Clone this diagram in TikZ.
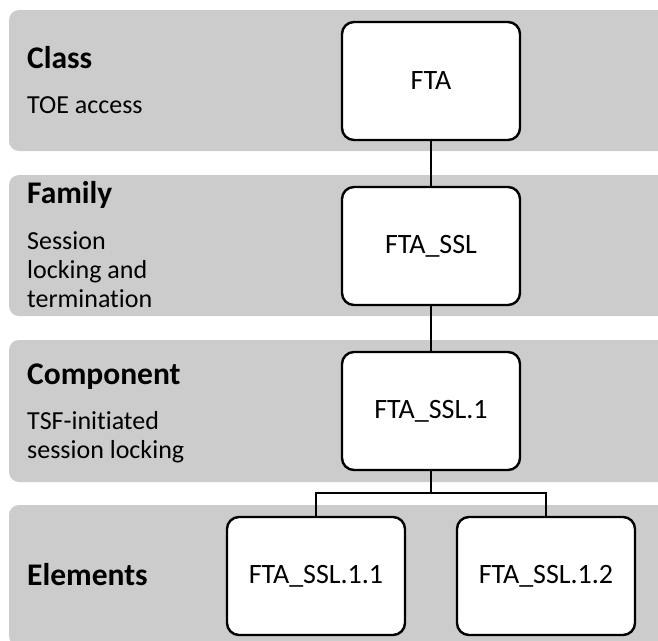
\documentclass[tikz,border=0pt]{standalone}
\usepackage{fontspec}
\setmainfont{Carlito}[Ligatures=NoCommon]
\definecolor{bandgray}{HTML}{CCCCCC}
\begin{document}
\begin{tikzpicture}[x=1pt, y=-1pt,
  band/.style={fill=bandgray, rounded corners=10pt},
  item/.style={draw=black, fill=white, line width=2.4pt, rounded corners=12pt,
    minimum width=178pt, minimum height=118pt, inner sep=0pt,
    font=\fontsize{28}{32}\selectfont},
  head/.style={anchor=base west, inner sep=0pt, font=\fontsize{31.5}{36}\bfseries},
  desc/.style={anchor=base west, inner sep=0pt, align=left,
    font=\fontsize{26}{29}\selectfont},
  link/.style={line width=2.4pt}]
\useasboundingbox (0,0) rectangle (658,640);
\clip (0,0) rectangle (658,640);
% level bands, running off the right edge
\fill[band] (9,10) rectangle (700,151);
\fill[band] (9,175) rectangle (700,316);
\fill[band] (9,340) rectangle (700,482);
\fill[band] (9,505) rectangle (700,646);
% level names and descriptions (base anchor sits on the last line)
\node[head] (hclass) at (27,68) {Class};
\node[desc] (dclass) at (27,113) {TOE access};
\node[head] (hfam) at (27,203) {Family};
\node[desc] (dfam) at (27,307) {Session\\locking and\\termination};
\node[head] (hcomp) at (27,384) {Component};
\node[desc] (dcomp) at (27,458) {TSF-initiated\\session locking};
\node[head] (helem) at (27,585) {Elements};
% hierarchy
\node[item] (fta) at (431,81) {FTA};
\node[item] (ssl) at (431,246) {FTA\_SSL};
\node[item] (ssl1) at (431,411) {FTA\_SSL.1};
\node[item] (e1) at (316,576) {FTA\_SSL.1.1};
\node[item] (e2) at (546,576) {FTA\_SSL.1.2};
\coordinate (fork) at (431,493);
\draw[link] (fta) -- (ssl);
\draw[link] (ssl) -- (ssl1);
\draw[link] (ssl1) -- (fork) -| (e1);
\draw[link] (fork) -| (e2);
\end{tikzpicture}
\end{document}
